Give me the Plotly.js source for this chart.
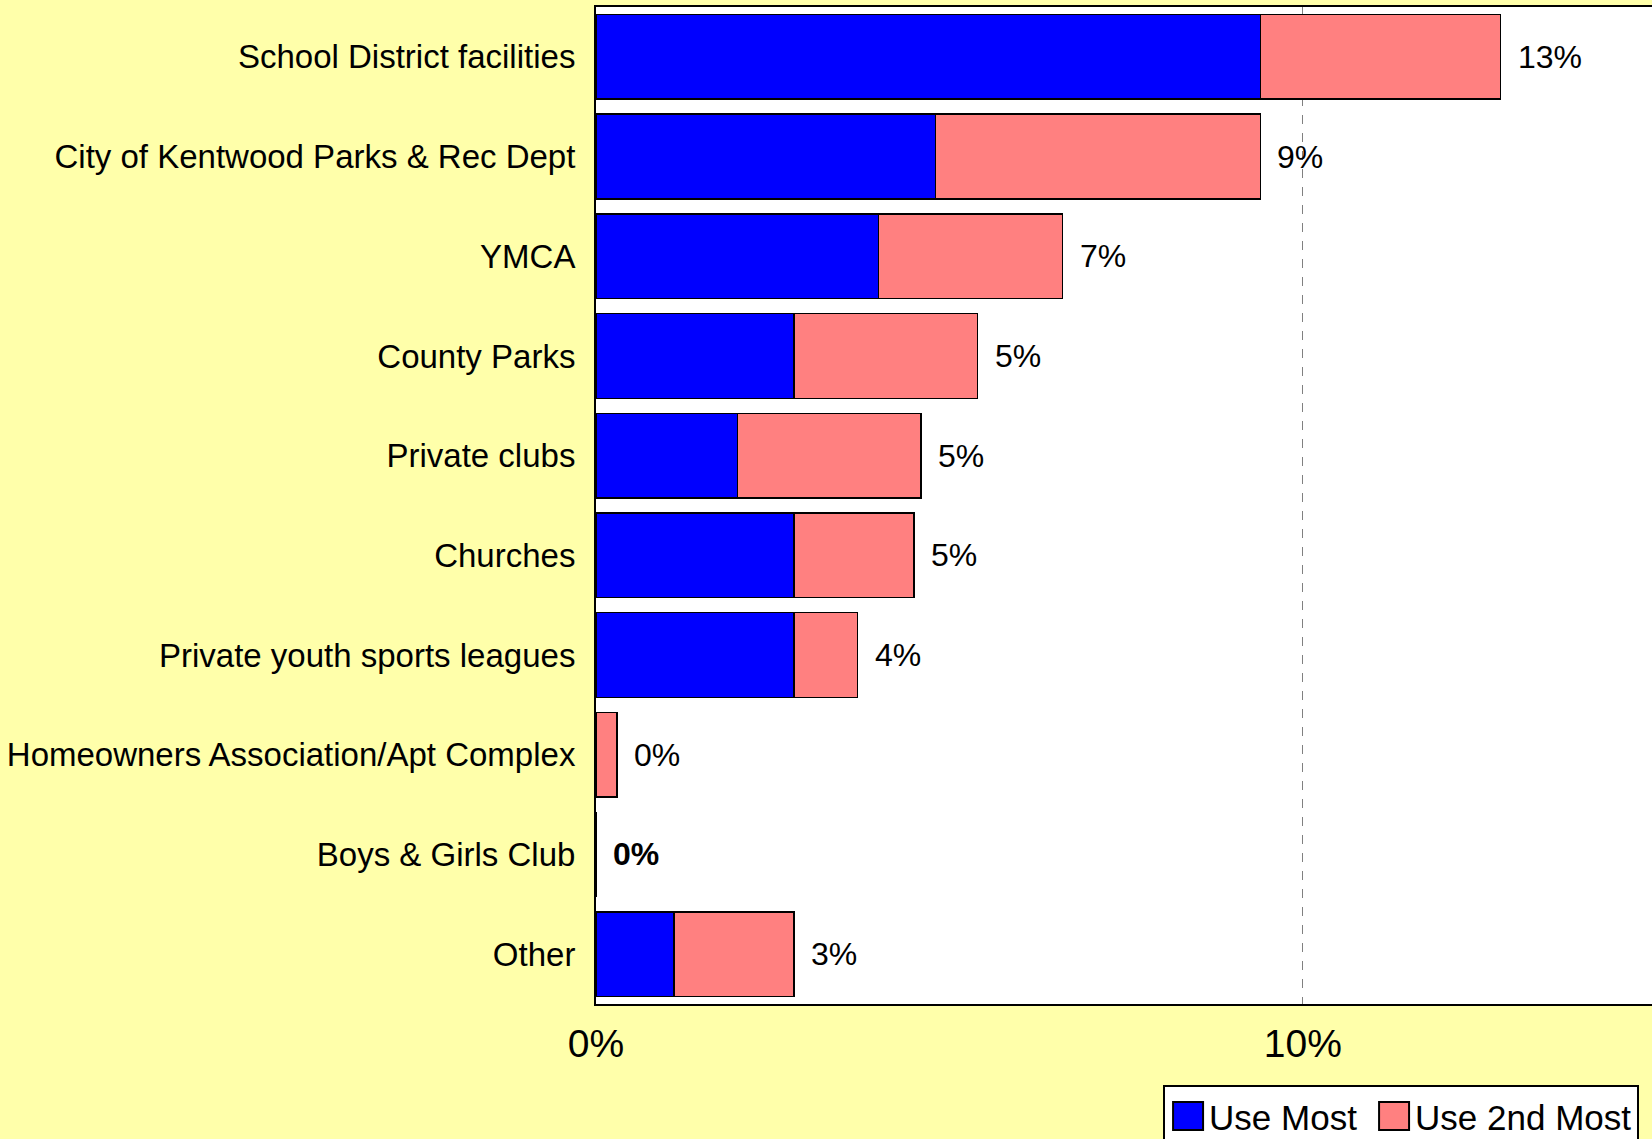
<!DOCTYPE html>
<html>
<head>
<meta charset="utf-8">
<script src="https://cdn.plot.ly/plotly-3.0.1.min.js"></script>
<style>html,body{margin:0;padding:0;background:#ffffaa;}#chart{width:1652px;height:1139px;}</style>
</head>
<body>
<div id="chart"></div>
<script>
var categories = ["School District facilities","City of Kentwood Parks & Rec Dept","YMCA","County Parks","Private clubs","Churches","Private youth sports leagues","Homeowners Association/Apt Complex","Boys & Girls Club","Other"];
var useMost = [9.4, 4.8, 4.0, 2.8, 2.0, 2.8, 2.8, 0, 0, 1.1];
var use2ndMost = [3.4, 4.6, 2.6, 2.6, 2.6, 1.7, 0.9, 0.3, 0, 1.7];
var totalLabels = ["13%","9%","7%","5%","5%","5%","4%","0%","0%","3%"];
var xTickVals = [0, 10];
var xTickText = ["0%", "10%"];

var FONT = "Arial, 'Liberation Sans', sans-serif";

var traces = [
  {type:'bar', orientation:'h', name:'Use Most', y:categories, x:useMost, legendwidth:157,
   marker:{color:'#0000ff', line:{color:'#000000', width:1.5}}, hoverinfo:'skip'},
  {type:'bar', orientation:'h', name:'Use 2nd Most', y:categories, x:use2ndMost,
   marker:{color:'#ff8080', line:{color:'#000000', width:1.5}}, hoverinfo:'skip'}
];

var annotations = categories.map(function(c, i){
  var tot = useMost[i] + use2ndMost[i];
  return {x: tot, y: c, xref:'x', yref:'y', text: totalLabels[i], showarrow:false,
          xanchor:'left', yanchor:'middle', xshift: 15,
          font:{family:FONT, size:32, color:'#000', weight: tot === 0 ? 'bold' : 'normal'}};
});

var layout = {
  width:1652, height:1139,
  paper_bgcolor:'#ffffaa', plot_bgcolor:'#ffffff',
  margin:{l:596, r:0, t:7, b:135, autoexpand:false},
  barmode:'stack', bargap:0.15,
  showlegend:true,
  legend:{orientation:'h', x:0.537, xanchor:'left', y:-0.081, yanchor:'top',
          bgcolor:'#ffffff', bordercolor:'#000000', borderwidth:2, itemwidth:34,
          font:{family:FONT, size:35, color:'#000'}, traceorder:'normal'},
  xaxis:{range:[0, 14.94], tickvals:xTickVals, ticktext:xTickText,
         showgrid:true, gridcolor:'#808080', griddash:'dash', gridwidth:1,
         zeroline:false, showline:true, linecolor:'#000', linewidth:2, mirror:true,
         ticks:'', ticklabelstandoff:4,
         tickfont:{family:FONT, size:39, color:'#000'}, fixedrange:true},
  yaxis:{autorange:'reversed', showgrid:false, zeroline:false,
         showline:true, linecolor:'#000', linewidth:2, ticks:'', ticklabelstandoff:12,
         tickfont:{family:FONT, size:33, color:'#000'}, fixedrange:true},
  annotations: annotations
};

Plotly.newPlot('chart', traces, layout, {displayModeBar:false, staticPlot:true}).then(function(gd){
  var paths = gd.querySelectorAll('.legend .legendpoints path');
  paths.forEach(function(p){
    p.setAttribute('d', 'M16,14H-14V-14H16Z');
    p.style.strokeWidth = '2px';
  });
});
</script>
</body>
</html>
